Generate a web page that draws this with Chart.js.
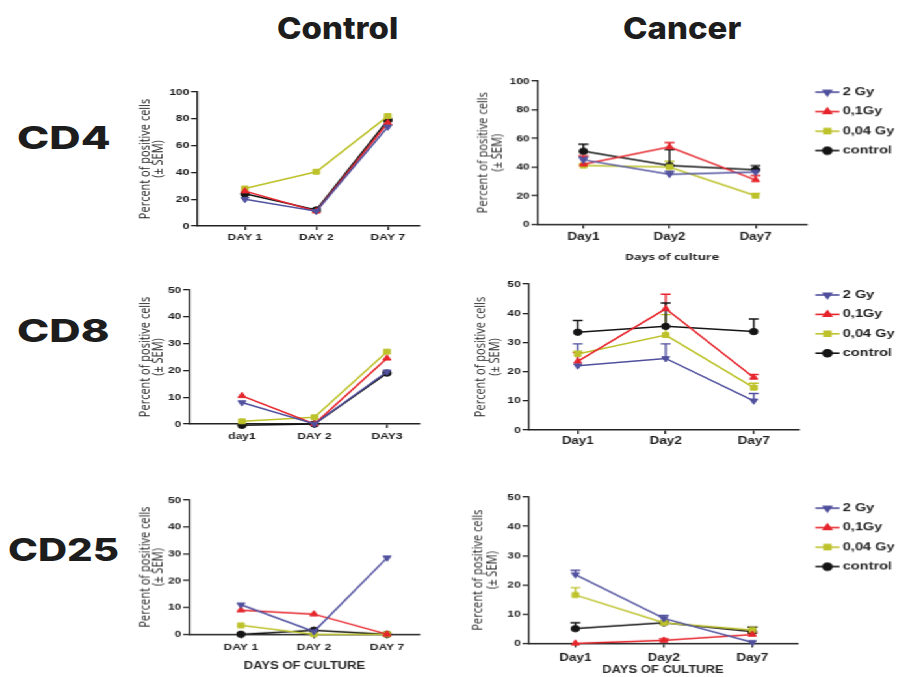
<!DOCTYPE html>
<html>
<head>
<meta charset="utf-8">
<script src="https://cdn.jsdelivr.net/npm/chart.js@4.4.1/dist/chart.umd.min.js"></script>
<style>
  body { margin: 0; background: #fff; width: 898px; height: 677px; position: relative; overflow: hidden; }
  #stretch { position: absolute; left: 0; top: 0; height: 677px; transform-origin: 0 0; }
  #stretch canvas { position: absolute; }
  .head { position: absolute; font-family: Inter, sans-serif; font-weight: 800; color: #1d1d1d; white-space: nowrap; transform-origin: 0 50%; }
</style>
</head>
<body>
<div class="head" style="left:277px; top:10px; font-size:30px; transform:scaleX(1.1);">Control</div>
<div class="head" style="left:623px; top:10px; font-size:30px; transform:scaleX(1.1);">Cancer</div>
<div class="head" style="left:17px; top:119px; font-size:31px; transform:scaleX(1.4);">CD4</div>
<div class="head" style="left:17px; top:312px; font-size:31px; transform:scaleX(1.4);">CD8</div>
<div class="head" style="left:8px; top:531px; font-size:31px; transform:scaleX(1.3);">CD25</div>
<div id="stretch"></div>
<script>
// the figure is horizontally stretched, charts are drawn narrow and scaled
const S = 1.3;

const days = [1, 2, 3];
const seriesNames = ['2 Gy', '0,1Gy', '0,04 Gy', 'control'];
const seriesColors = ['#50509e', '#e6252c', '#bdc22b', '#151515'];
const pointStyles = ['triangle', 'triangle', 'rect', 'circle'];
const pointRotations = [180, 0, 0, 0];

const ctrlLabels = ['DAY 1', 'DAY 2', 'DAY 7'];
const cd8CtrlLabels = ['day1', 'DAY 2', 'DAY3'];
const cancerLabels = ['Day1', 'Day2', 'Day7'];
const yTicks100 = [0, 20, 40, 60, 80, 100];
const yTicks50 = [0, 10, 20, 30, 40, 50];

// CD4 - control
const cd4Ctrl2Gy = [20, 11, 74];
const cd4Ctrl01Gy = [26, 11, 77];
const cd4Ctrl004Gy = [28, 40.5, 82];
const cd4CtrlControl = [24, 12, 79];

// CD4 - cancer (mean + SEM)
const cd4Can2Gy = [45, 35, 36.5];
const cd4Can01Gy = [42, 54, 31];
const cd4Can004Gy = [41, 40, 20];
const cd4CanControl = [51, 41, 38];
const cd4Can2GyErr = [2, 2, 2];
const cd4Can01GyErr = [6, 3, 3];
const cd4Can004GyErr = [1, 4, 1.5];
const cd4CanControlErr = [5, 11, 3];

// CD8 - control
const cd8Ctrl2Gy = [8, 0, 19.5];
const cd8Ctrl01Gy = [10.5, 0, 24.5];
const cd8Ctrl004Gy = [1, 2.5, 27];
const cd8CtrlControl = [-0.5, 0, 19];

// CD8 - cancer
const cd8Can2Gy = [22, 24.5, 10];
const cd8Can01Gy = [23.5, 41.5, 18];
const cd8Can004Gy = [26, 32.5, 14.5];
const cd8CanControl = [33.5, 35.5, 33.7];
const cd8Can2GyErr = [7.5, 5, 2.5];
const cd8Can01GyErr = [3, 5, 1];
const cd8Can004GyErr = [1, 7, 1.5];
const cd8CanControlErr = [4, 8, 4.3];

// CD25 - control
const cd25Ctrl2Gy = [11, 1, 28.5];
const cd25Ctrl01Gy = [9, 7.5, 0];
const cd25Ctrl004Gy = [3.3, 0, 0];
const cd25CtrlControl = [0, 1.5, 0];

// CD25 - cancer
const cd25Can2Gy = [23.5, 8.5, 0.3];
const cd25Can01Gy = [0, 1, 3];
const cd25Can004Gy = [16.5, 7, 4.5];
const cd25CanControl = [5, 7, 4];
const cd25Can2GyErr = [1.5, 1, 0];
const cd25Can01GyErr = [0, 0.5, 0.5];
const cd25Can004GyErr = [2.5, 0.5, 1];
const cd25CanControlErr = [2, 0.5, 1.5];

const stretchEl = document.getElementById('stretch');
stretchEl.style.width = (898 / S) + 'px';
stretchEl.style.transform = 'scaleX(' + S + ')';

// error bars, upper side only (GraphPad style)
const errorBars = {
  id: 'errorBars',
  beforeDatasetsDraw(chart, args, opts) {
    if (!opts.errors) return;
    const { ctx, scales: { x, y } } = chart;
    chart.data.datasets.forEach((ds, i) => {
      const errs = opts.errors[i];
      ctx.save();
      ctx.strokeStyle = ds.borderColor;
      ctx.lineWidth = 1.4;
      ds.data.forEach((pt, j) => {
        if (!errs[j]) return;
        const px = x.getPixelForValue(pt.x);
        const py0 = y.getPixelForValue(pt.y);
        const py1 = y.getPixelForValue(pt.y + errs[j]);
        ctx.beginPath();
        ctx.moveTo(px, py0);
        ctx.lineTo(px, py1);
        ctx.moveTo(px - 3.8, py1);
        ctx.lineTo(px + 3.8, py1);
        ctx.stroke();
      });
      ctx.restore();
    });
  }
};

// legend on the right side: line + marker + label
const sideLegend = {
  id: 'sideLegend',
  afterDraw(chart, args, opts) {
    if (!opts.display) return;
    const { ctx, chartArea } = chart;
    chart.data.datasets.forEach((ds, i) => {
      const y = chartArea.top + 11 + i * 19.4;
      const x0 = opts.x;
      ctx.save();
      ctx.strokeStyle = ds.borderColor;
      ctx.lineWidth = 1.6;
      ctx.beginPath();
      ctx.moveTo(x0, y);
      ctx.lineTo(x0 + 18.5, y);
      ctx.stroke();
      ctx.fillStyle = ds.pointBackgroundColor;
      Chart.helpers.drawPoint(ctx, { pointStyle: ds.pointStyle, rotation: ds.pointRotation, radius: 3.4, borderWidth: 1 }, x0 + 9.2, y);
      ctx.fillStyle = '#1e1e1e';
      ctx.font = 'bold 11.2px "Liberation Sans", Arial, sans-serif';
      ctx.textBaseline = 'middle';
      ctx.fillText(ds.label, x0 + 21, y);
      ctx.restore();
    });
  }
};

function makeSeries(values, i) {
  return {
    label: seriesNames[i],
    data: values.map((v, j) => ({ x: days[j], y: v })),
    borderColor: seriesColors[i],
    backgroundColor: seriesColors[i],
    pointBackgroundColor: seriesColors[i],
    pointBorderColor: seriesColors[i],
    pointStyle: pointStyles[i],
    pointRotation: pointRotations[i],
    pointRadius: pointStyles[i] === 'circle' ? 3.2 : 3.5,
    pointBorderWidth: 1,
    borderWidth: 1.5,
    tension: 0,
    clip: false
  };
}

function makePanel(p) {
  const cLeft = p.left / S;
  const cw = Math.round(p.width / S);
  const ch = p.B - p.top + p.xH;
  const yTitleFont = 11;
  const yTitleLh = 10.8;
  const scaleLeft = p.titleX / S - 1 - yTitleLh / 2;

  const cv = document.createElement('canvas');
  cv.width = cw;
  cv.height = ch;
  cv.style.left = cLeft + 'px';
  cv.style.top = p.top + 'px';
  cv.style.width = cw + 'px';
  cv.style.height = ch + 'px';
  stretchEl.appendChild(cv);

  const axisColor = '#222';
  new Chart(cv, {
    type: 'line',
    data: { datasets: p.values.map(makeSeries) },
    plugins: [errorBars, sideLegend],
    options: {
      responsive: false,
      animation: false,
      events: [],
      layout: {
        padding: { left: scaleLeft - cLeft, top: p.T - p.top, right: cLeft + cw - p.R / S, bottom: 0 }
      },
      plugins: {
        legend: { display: false },
        tooltip: { enabled: false },
        errorBars: { errors: p.errors },
        sideLegend: { display: !!p.legend, x: 816 / S - cLeft }
      },
      scales: {
        x: {
          type: 'linear',
          min: p.xMin,
          max: p.xMax,
          afterBuildTicks: s => { s.ticks = days.map(v => ({ value: v })); },
          afterFit: s => { s.height = p.xH; },
          ticks: {
            callback: v => p.labels[v - 1],
            autoSkip: false,
            maxRotation: 0,
            padding: p.xPad,
            color: '#1e1e1e',
            font: { family: '"Liberation Sans", Arial, sans-serif', weight: 'bold', size: p.xFont }
          },
          grid: { display: true, drawOnChartArea: false, drawTicks: true, tickLength: 4, color: axisColor, lineWidth: 1.3 },
          border: { display: true, color: axisColor, width: 1.4 },
          title: {
            display: !!p.xTitle,
            text: p.xTitle || '',
            color: '#2a2a2a',
            padding: 0,
            font: { family: p.xTitleFamily || '"Liberation Sans", Arial, sans-serif', weight: 'bold', size: p.xTitleSize || 9 }
          }
        },
        y: {
          min: 0,
          max: p.yTicks[p.yTicks.length - 1],
          afterBuildTicks: s => { s.ticks = p.yTicks.map(v => ({ value: v })); },
          afterFit: s => { s.width = p.L / S - scaleLeft; },
          ticks: {
            padding: 1.5,
            color: '#1e1e1e',
            font: { family: '"Liberation Sans", Arial, sans-serif', weight: 'bold', size: 9.2 }
          },
          grid: { display: true, drawOnChartArea: false, drawTicks: true, tickLength: 4.5, color: axisColor, lineWidth: 1.3 },
          border: { display: true, color: axisColor, width: 1.3 },
          title: {
            display: true,
            text: ['Percent of positive cells', '(± SEM)'],
            color: '#262626',
            padding: { top: 1, bottom: 0 },
            font: { family: '"Open Sans", sans-serif', size: yTitleFont, lineHeight: yTitleLh / yTitleFont }
          }
        }
      }
    }
  });
}

// CD4
makePanel({
  left: 130, top: 80, width: 300, L: 197, T: 92, R: 420, B: 226, titleX: 145,
  xMin: 0.33, xMax: 3.45, yTicks: yTicks100, labels: ctrlLabels, xFont: 9.3, xPad: 2, xH: 30,
  values: [cd4Ctrl2Gy, cd4Ctrl01Gy, cd4Ctrl004Gy, cd4CtrlControl]
});
makePanel({
  left: 466, top: 69, width: 432, L: 538, T: 81, R: 807, B: 224, titleX: 484,
  xMin: 0.465, xMax: 3.59, yTicks: yTicks100, labels: cancerLabels, xFont: 10.3, xPad: 2.5, xH: 38.5,
  xTitle: 'Days of culture', xTitleFamily: '"Open Sans", sans-serif', xTitleSize: 9.6,
  values: [cd4Can2Gy, cd4Can01Gy, cd4Can004Gy, cd4CanControl],
  errors: [cd4Can2GyErr, cd4Can01GyErr, cd4Can004GyErr, cd4CanControlErr], legend: true
});

// CD8
makePanel({
  left: 130, top: 278, width: 300, L: 189, T: 290, R: 420, B: 424, titleX: 145,
  xMin: 0.27, xMax: 3.455, yTicks: yTicks50, labels: cd8CtrlLabels, xFont: 9.3, xPad: 3, xH: 30,
  values: [cd8Ctrl2Gy, cd8Ctrl01Gy, cd8Ctrl004Gy, cd8CtrlControl]
});
makePanel({
  left: 462, top: 272, width: 436, L: 529, T: 284, R: 800, B: 430, titleX: 481,
  xMin: 0.44, xMax: 3.52, yTicks: yTicks50, labels: cancerLabels, xFont: 10.3, xPad: 0.5, xH: 28,
  values: [cd8Can2Gy, cd8Can01Gy, cd8Can004Gy, cd8CanControl],
  errors: [cd8Can2GyErr, cd8Can01GyErr, cd8Can004GyErr, cd8CanControlErr], legend: true
});

// CD25
makePanel({
  left: 130, top: 488, width: 300, L: 189, T: 500, R: 420, B: 634, titleX: 145,
  xMin: 0.29, xMax: 3.45, yTicks: yTicks50, labels: ctrlLabels, xFont: 9.3, xPad: 3.5, xH: 37.6,
  xTitle: 'DAYS OF CULTURE', xTitleSize: 10,
  values: [cd25Ctrl2Gy, cd25Ctrl01Gy, cd25Ctrl004Gy, cd25CtrlControl]
});
makePanel({
  left: 462, top: 485, width: 436, L: 529, T: 497, R: 798, B: 643, titleX: 479,
  xMin: 0.47, xMax: 3.51, yTicks: yTicks50, labels: cancerLabels, xFont: 10.3, xPad: 4.5, xH: 32.6,
  xTitle: 'DAYS OF CULTURE', xTitleSize: 10,
  values: [cd25Can2Gy, cd25Can01Gy, cd25Can004Gy, cd25CanControl],
  errors: [cd25Can2GyErr, cd25Can01GyErr, cd25Can004GyErr, cd25CanControlErr], legend: true
});
</script>
</body>
</html>
